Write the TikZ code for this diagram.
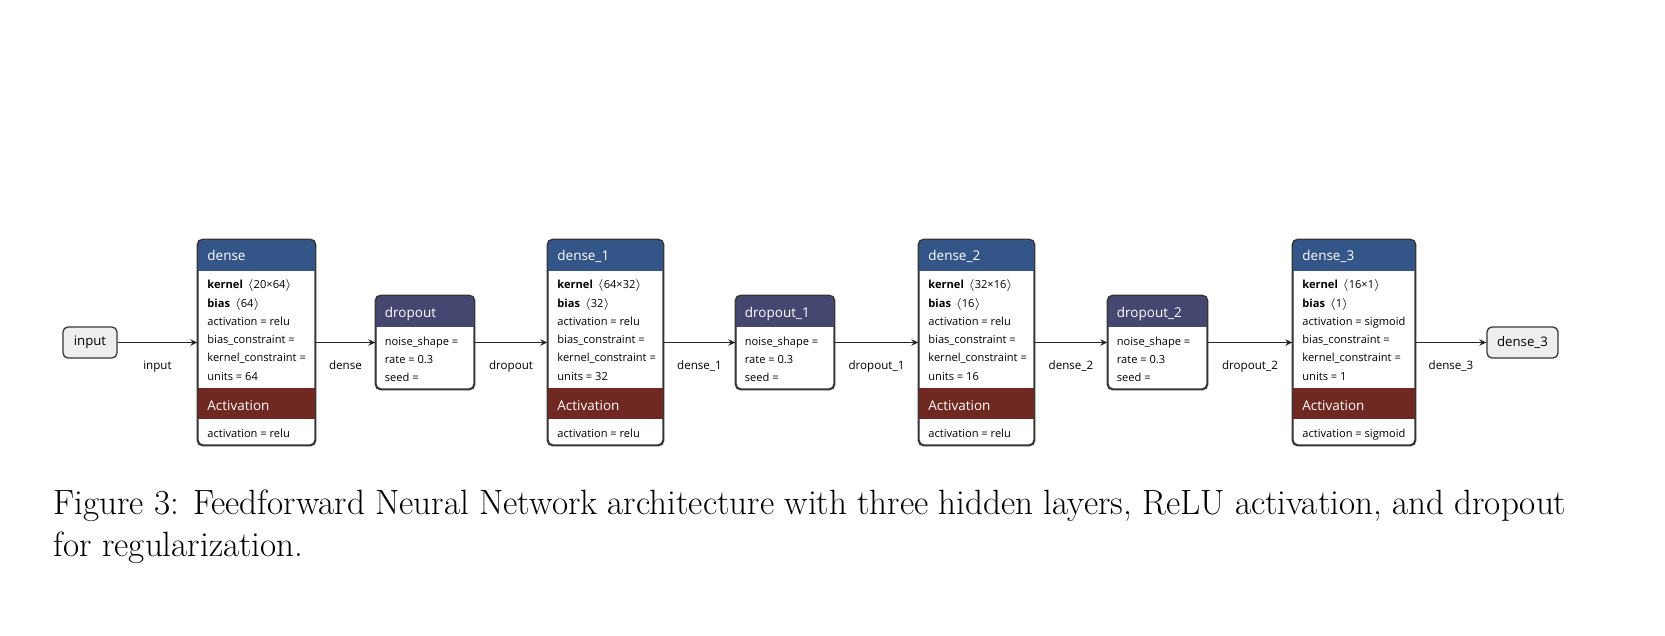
\documentclass[tikz,border=0pt]{standalone}
\usepackage{fontspec}
\newfontfamily\nf{Open Sans}
\usetikzlibrary{arrows.meta}
\definecolor{layercol}{RGB}{51,85,136}
\definecolor{dropcol}{RGB}{69,71,112}
\definecolor{actcol}{RGB}{112,41,33}
\definecolor{bordercol}{RGB}{55,55,55}
\definecolor{iofill}{RGB}{238,238,238}
\tikzset{
 boxframe/.style={draw=bordercol, line width=0.65pt, rounded corners=2.5pt},
 hdr/.style={anchor=base west, inner sep=0pt, text=white, font=\nf\fontsize{6.75pt}{8pt}\selectfont},
 bodytxt/.style={anchor=base west, inner sep=0pt, text=black, font=\nf\fontsize{5.55pt}{7pt}\selectfont},
 ionode/.style={boxframe, fill=iofill, minimum width=27pt, minimum height=15.5pt, inner sep=0pt, font=\nf\fontsize{6.6pt}{8pt}\selectfont},
 edge/.style={draw=black!85, line width=0.6pt, -{Stealth[length=3.5pt,width=3.2pt]}},
 elabel/.style={inner sep=0pt, anchor=base, font=\nf\fontsize{5.8pt}{7pt}\selectfont, yshift=-13.25pt},
 captxt/.style={anchor=base west, inner sep=0pt, font=\fontsize{17.55pt}{22pt}\selectfont},
}
\newcommand{\denseblk}[8]{%
 \node[boxframe, fill=white, inner sep=0pt, minimum width={(#3-#2)*0.5pt}, minimum height=102.5pt] (#1) at ({(#2+#3)/2},342.5) {};
 \begin{scope}
  \clip[rounded corners=2.5pt] (#2,240) rectangle (#3,445);
  \fill[layercol] (#2,240) rectangle (#3,271);
  \fill[actcol] (#2,388) rectangle (#3,419);
 \end{scope}
 \draw[boxframe] (#1.north west) rectangle (#1.south east);
 \node[hdr] (#1-t) at ({#2+9},261) {#4};
 \node[bodytxt] (#1-k) at ({#2+9},289) {\textbf{kernel}\ \,$\langle$#5$\rangle$};
 \node[bodytxt] (#1-b) at ({#2+9},307.2) {\textbf{bias}\ \,$\langle$#6$\rangle$};
 \node[bodytxt] (#1-a) at ({#2+9},325.4) {activation = #7};
 \node[bodytxt] (#1-bc) at ({#2+9},343.6) {bias\_constraint =};
 \node[bodytxt] (#1-kc) at ({#2+9},361.8) {kernel\_constraint =};
 \node[bodytxt] (#1-u) at ({#2+9},380) {units = #8};
 \node[hdr] (#1-at) at ({#2+9},410) {Activation};
 \node[bodytxt] (#1-aa) at ({#2+9},437.3) {activation = #7};
}
\newcommand{\dropblk}[4]{%
 \node[boxframe, fill=white, inner sep=0pt, minimum width={(#3-#2)*0.5pt}, minimum height=46.5pt] (#1) at ({(#2+#3)/2},342.5) {};
 \begin{scope}
  \clip[rounded corners=2.5pt] (#2,296) rectangle (#3,389);
  \fill[dropcol] (#2,296) rectangle (#3,327);
 \end{scope}
 \draw[boxframe] (#1.north west) rectangle (#1.south east);
 \node[hdr] (#1-t) at ({#2+8.5},317) {#4};
 \node[bodytxt] (#1-n) at ({#2+8.5},345) {noise\_shape =};
 \node[bodytxt] (#1-r) at ({#2+8.5},363.5) {rate = 0.3};
 \node[bodytxt] (#1-s) at ({#2+8.5},381.5) {seed =};
}
\begin{document}
\begin{tikzpicture}[x=0.5pt, y=-0.5pt]
\fill[white] (0,0) rectangle (1665,636);
\useasboundingbox (0,0) rectangle (1665,636);

\node[ionode] (in) at (90,342.5) {input};
\denseblk{d0}{198}{315}{dense}{20×64}{64}{relu}{64}
\dropblk{p0}{376}{474}{dropout}
\denseblk{d1}{548}{663}{dense\_1}{64×32}{32}{relu}{32}
\dropblk{p1}{736}{834}{dropout\_1}
\denseblk{d2}{919}{1034}{dense\_2}{32×16}{16}{relu}{16}
\dropblk{p2}{1108}{1207}{dropout\_2}
\denseblk{d3}{1293}{1415}{dense\_3}{16×1}{1}{sigmoid}{1}
\node[ionode, minimum width=35.5pt] (out) at (1522.5,342.5) {dense\_3};

\draw[edge] (in) -- node[elabel] (l0) {input} (d0);
\draw[edge] (d0) -- node[elabel] (l1) {dense} (p0);
\draw[edge] (p0) -- node[elabel] (l2) {dropout} (d1);
\draw[edge] (d1) -- node[elabel] (l3) {dense\_1} (p1);
\draw[edge] (p1) -- node[elabel] (l4) {dropout\_1} (d2);
\draw[edge] (d2) -- node[elabel] (l5) {dense\_2} (p2);
\draw[edge] (p2) -- node[elabel] (l6) {dropout\_2} (d3);
\draw[edge] (d3) -- node[elabel] (l7) {dense\_3} (out);

\node[captxt] (cap1) at (53,514) {\makebox[756.5pt][s]{Figure 3: Feedforward Neural Network architecture with three hidden layers, ReLU activation, and dropout}};
\node[captxt] (cap2) at (53,556) {for regularization.};
\end{tikzpicture}
\end{document}
